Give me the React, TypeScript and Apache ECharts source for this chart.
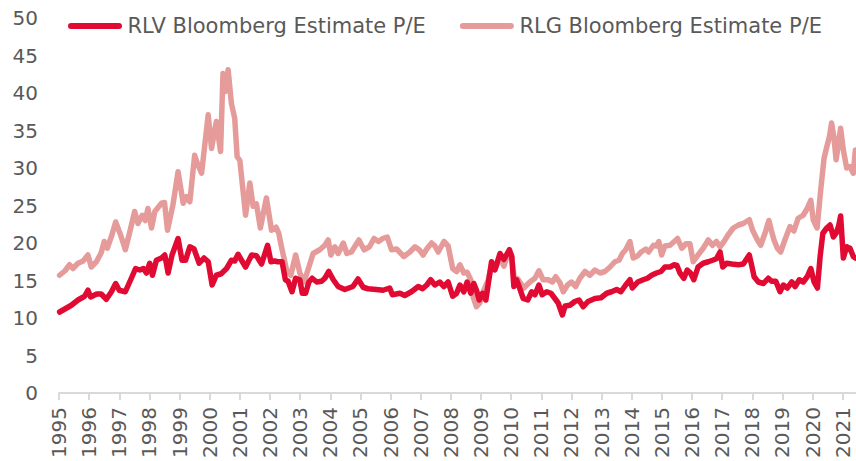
import React, { useEffect, useRef } from "react";
import * as echarts from "echarts";

// Decimal-year positions and values
const rlvDates = [
  1995.02, 1995.41, 1995.63, 1995.85, 1995.96, 1996.05, 1996.25, 1996.4, 1996.57, 1996.74, 1996.88, 1997.0,
  1997.2, 1997.4, 1997.54, 1997.68, 1997.8, 1997.9, 1998.01, 1998.1, 1998.23, 1998.4, 1998.51, 1998.62,
  1998.75, 1998.95, 1999.08, 1999.2, 1999.34, 1999.48, 1999.65, 1999.81, 1999.95, 2000.08, 2000.22, 2000.38,
  2000.56, 2000.72, 2000.83, 2000.94, 2001.07, 2001.19, 2001.39, 2001.55, 2001.72, 2001.92, 2002.03, 2002.15,
  2002.26, 2002.4, 2002.51, 2002.6, 2002.73, 2002.85, 2002.99, 2003.07, 2003.18, 2003.29, 2003.4, 2003.55,
  2003.71, 2003.82, 2003.95, 2004.1, 2004.26, 2004.48, 2004.75, 2004.92, 2005.09, 2005.25, 2005.53, 2005.75,
  2005.97, 2006.06, 2006.31, 2006.47, 2006.69, 2006.92, 2007.06, 2007.2, 2007.33, 2007.47, 2007.63, 2007.77,
  2007.91, 2008.06, 2008.19, 2008.3, 2008.43, 2008.54, 2008.66, 2008.76, 2008.85, 2008.94, 2009.05, 2009.16,
  2009.35, 2009.46, 2009.63, 2009.76, 2009.94, 2010.02, 2010.09, 2010.18, 2010.28, 2010.4, 2010.55, 2010.68,
  2010.79, 2010.92, 2011.03, 2011.18, 2011.32, 2011.45, 2011.56, 2011.7, 2011.79, 2011.95, 2012.11, 2012.25,
  2012.39, 2012.55, 2012.78, 2012.98, 2013.17, 2013.33, 2013.5, 2013.64, 2013.8, 2013.94, 2014.02, 2014.2,
  2014.38, 2014.52, 2014.66, 2014.82, 2014.97, 2015.1, 2015.27, 2015.41, 2015.5, 2015.6, 2015.73, 2015.84,
  2015.95, 2016.06, 2016.2, 2016.37, 2016.54, 2016.68, 2016.81, 2016.93, 2017.02, 2017.15, 2017.32, 2017.54,
  2017.7, 2017.9, 2017.98, 2018.06, 2018.2, 2018.37, 2018.53, 2018.64, 2018.78, 2018.92, 2019.03, 2019.16,
  2019.31, 2019.42, 2019.56, 2019.69, 2019.82, 2019.94, 2020.05, 2020.16, 2020.25, 2020.34, 2020.47, 2020.58,
  2020.69, 2020.78, 2020.86, 2020.93, 2021.02, 2021.13, 2021.24, 2021.35, 2021.42,
];
const rlvValues = [
  10.8, 11.7, 12.4, 12.9, 13.7, 12.8, 13.2, 13.2, 12.5, 13.5, 14.6, 13.7,
  13.5, 15.3, 16.6, 16.4, 16.6, 16.0, 17.3, 15.7, 17.7, 18.0, 18.4, 16.0,
  18.4, 20.6, 17.7, 17.7, 19.5, 19.2, 17.3, 18.0, 17.5, 14.4, 15.7, 15.9,
  16.6, 17.7, 17.6, 18.5, 17.6, 16.8, 18.4, 18.3, 17.2, 19.7, 17.5, 17.6,
  17.5, 17.5, 15.1, 14.9, 13.5, 15.3, 15.1, 13.3, 13.3, 14.8, 15.3, 14.8,
  14.9, 15.3, 16.2, 15.1, 14.2, 13.8, 14.2, 15.2, 14.1, 13.9, 13.8, 13.7,
  14.0, 13.1, 13.3, 13.0, 13.5, 14.2, 13.9, 14.4, 15.1, 14.4, 14.8, 14.2,
  14.8, 12.9, 13.3, 14.4, 13.5, 14.8, 13.3, 14.6, 13.7, 12.4, 13.3, 12.4,
  17.5, 16.4, 18.6, 17.8, 19.1, 18.2, 14.2, 15.1, 14.0, 12.6, 12.4, 13.5,
  13.1, 14.4, 13.1, 13.5, 13.3, 12.6, 12.0, 10.4, 11.6, 11.7, 12.2, 12.4,
  11.5, 12.2, 12.6, 12.7, 13.3, 13.5, 13.8, 13.5, 14.4, 15.1, 14.0, 14.8,
  15.1, 15.3, 15.7, 16.0, 16.2, 16.8, 16.8, 17.1, 17.0, 16.0, 15.3, 16.4,
  16.0, 15.1, 16.8, 17.3, 17.5, 17.7, 17.9, 18.8, 16.8, 17.3, 17.2, 17.1,
  17.2, 18.4, 17.0, 15.5, 14.8, 14.6, 15.3, 14.9, 14.9, 13.5, 14.4, 14.0,
  14.8, 14.2, 15.1, 14.8, 15.5, 16.6, 14.8, 14.0, 18.2, 21.3, 22.0, 22.4,
  20.8, 21.3, 22.2, 23.6, 18.0, 19.5, 19.3, 18.2, 18.0,
];

const rlgDates = [
  1995.02, 1995.2, 1995.35, 1995.46, 1995.63, 1995.8, 1995.96, 1996.07, 1996.24, 1996.4, 1996.5, 1996.6,
  1996.75, 1996.88, 1997.05, 1997.2, 1997.35, 1997.51, 1997.62, 1997.76, 1997.86, 1997.95, 1998.07, 1998.18,
  1998.4, 1998.5, 1998.6, 1998.78, 1998.95, 1999.12, 1999.23, 1999.34, 1999.5, 1999.6, 1999.73, 1999.82,
  1999.95, 2000.06, 2000.22, 2000.36, 2000.44, 2000.52, 2000.61, 2000.72, 2000.83, 2000.91, 2001.0, 2001.19,
  2001.33, 2001.44, 2001.55, 2001.68, 2001.88, 2002.05, 2002.2, 2002.29, 2002.38, 2002.55, 2002.69, 2002.85,
  2002.99, 2003.13, 2003.29, 2003.43, 2003.65, 2003.82, 2003.93, 2004.02, 2004.15, 2004.26, 2004.43, 2004.55,
  2004.7, 2004.95, 2005.12, 2005.3, 2005.45, 2005.6, 2005.74, 2005.89, 2006.03, 2006.2, 2006.44, 2006.64,
  2006.81, 2006.95, 2007.08, 2007.2, 2007.36, 2007.47, 2007.58, 2007.77, 2007.91, 2008.06, 2008.19, 2008.3,
  2008.43, 2008.54, 2008.66, 2008.74, 2008.85, 2008.96, 2009.05, 2009.24, 2009.35, 2009.51, 2009.63, 2009.76,
  2009.9, 2010.01, 2010.1, 2010.22, 2010.42, 2010.62, 2010.79, 2010.92, 2011.06, 2011.23, 2011.37, 2011.48,
  2011.62, 2011.73, 2011.87, 2012.0, 2012.14, 2012.28, 2012.45, 2012.61, 2012.78, 2012.95, 2013.11, 2013.28,
  2013.44, 2013.58, 2013.69, 2013.8, 2013.94, 2014.05, 2014.2, 2014.31, 2014.47, 2014.56, 2014.72, 2014.83,
  2014.9, 2014.99, 2015.1, 2015.27, 2015.41, 2015.52, 2015.66, 2015.8, 2015.93, 2016.04, 2016.2, 2016.37,
  2016.54, 2016.68, 2016.81, 2016.93, 2017.06, 2017.2, 2017.37, 2017.54, 2017.7, 2017.9, 2018.01, 2018.17,
  2018.28, 2018.42, 2018.55, 2018.63, 2018.72, 2018.83, 2018.94, 2019.08, 2019.25, 2019.38, 2019.52, 2019.69,
  2019.82, 2019.94, 2020.02, 2020.15, 2020.27, 2020.38, 2020.47, 2020.56, 2020.63, 2020.71, 2020.78, 2020.86,
  2020.93, 2021.02, 2021.13, 2021.24, 2021.35, 2021.42,
];
const rlgValues = [
  15.7, 16.3, 17.1, 16.6, 17.3, 17.6, 18.4, 16.8, 17.5, 18.7, 20.2, 19.3,
  21.0, 22.8, 21.0, 19.1, 21.5, 24.2, 22.6, 23.7, 23.0, 24.6, 22.0, 24.2,
  25.3, 25.4, 21.7, 25.1, 29.5, 25.3, 26.2, 25.5, 31.7, 30.5, 29.3, 32.5,
  37.1, 32.6, 36.2, 32.2, 42.6, 40.2, 43.1, 38.6, 36.6, 31.5, 31.0, 23.7,
  28.0, 24.9, 25.2, 22.0, 26.0, 21.7, 22.1, 21.3, 19.5, 16.4, 15.7, 18.4,
  16.0, 14.8, 16.8, 18.6, 19.1, 19.7, 20.4, 18.4, 19.5, 18.6, 20.0, 18.6,
  18.8, 20.4, 19.1, 19.5, 20.6, 20.2, 20.6, 20.8, 19.1, 19.2, 18.2, 18.8,
  19.5, 19.1, 18.4, 19.2, 20.0, 19.6, 18.8, 20.2, 19.6, 16.6, 16.2, 17.1,
  16.0, 16.1, 15.1, 12.8, 11.5, 12.0, 13.3, 15.1, 17.1, 16.9, 18.2, 16.9,
  18.6, 18.4, 15.4, 15.2, 14.0, 14.8, 15.3, 16.3, 15.1, 15.1, 14.8, 15.5,
  14.7, 13.5, 14.4, 14.8, 14.2, 15.3, 16.2, 15.7, 16.4, 16.0, 16.2, 16.8,
  17.5, 17.7, 18.6, 19.1, 20.2, 18.0, 18.3, 18.8, 19.2, 18.8, 19.7, 19.6,
  20.2, 18.4, 19.6, 19.7, 20.2, 20.6, 19.3, 19.9, 19.9, 17.5, 18.4, 19.3,
  20.4, 19.7, 20.2, 19.5, 20.2, 21.1, 22.0, 22.4, 22.6, 23.1, 21.7, 20.4,
  19.7, 21.3, 23.0, 21.7, 20.4, 19.3, 18.8, 20.4, 22.2, 21.6, 23.3, 23.7,
  24.6, 25.7, 23.1, 22.0, 27.1, 31.3, 32.8, 34.2, 36.0, 34.0, 31.1, 33.3,
  35.3, 32.4, 30.0, 30.2, 29.3, 32.4,
];

const seriesNames = ["RLV Bloomberg Estimate P/E", "RLG Bloomberg Estimate P/E"];
const seriesColors = ["#E10A32", "#E69B9B"];
const xMin = 1995;
const xMax = 2021.44;

const FONT = "'DejaVu Sans', Verdana, sans-serif";
// capsule-shaped legend icon (a thick line with round caps)
const LEGEND_ICON = "path://M3,0 H51 A3,3 0 0 1 51,6 H3 A3,3 0 0 1 3,0 Z";

export default function App() {
  const ref = useRef<HTMLDivElement>(null);

  useEffect(() => {
    if (!ref.current) return;
    const chart = echarts.init(ref.current, undefined, { renderer: "svg" });
    const zip = (xs: number[], ys: number[]) => xs.map((x, i) => [x, ys[i]]);
    chart.setOption({
      animation: false,
      backgroundColor: "#ffffff",
      grid: { left: 59, right: 0, top: 18, bottom: 68, containLabel: false },
      legend: {
        left: 68,
        top: 14,
        padding: 0,
        icon: LEGEND_ICON,
        itemWidth: 55,
        itemHeight: 6,
        itemGap: 34,
        data: seriesNames,
        textStyle: { fontFamily: FONT, fontSize: 21, color: "#595959", lineHeight: 24 },
      },
      xAxis: {
        type: "value",
        min: xMin,
        max: xMax,
        interval: 1,
        splitLine: { show: false },
        axisLine: { show: true, lineStyle: { color: "#D9D9D9", width: 2 } },
        axisTick: { show: true, length: 7, lineStyle: { color: "#D9D9D9", width: 2 } },
        axisLabel: {
          rotate: 90,
          margin: 14,
          fontFamily: FONT,
          fontSize: 20,
          color: "#595959",
          showMaxLabel: false,
          formatter: (v: number) => (Math.abs(v - Math.round(v)) < 1e-6 ? String(Math.round(v)) : ""),
        },
      },
      yAxis: {
        type: "value",
        min: 0,
        max: 50,
        interval: 5,
        splitLine: { show: false },
        axisLine: { show: false },
        axisTick: { show: false },
        axisLabel: { margin: 21, fontFamily: FONT, fontSize: 20, color: "#595959" },
      },
      series: [
        {
          name: seriesNames[0],
          type: "line",
          data: zip(rlvDates, rlvValues),
          symbol: "none",
          z: 3,
          lineStyle: { color: seriesColors[0], width: 5.5, cap: "round", join: "round" },
          itemStyle: { color: seriesColors[0] },
        },
        {
          name: seriesNames[1],
          type: "line",
          data: zip(rlgDates, rlgValues),
          symbol: "none",
          z: 2,
          lineStyle: { color: seriesColors[1], width: 5.5, cap: "round", join: "round" },
          itemStyle: { color: seriesColors[1] },
        },
      ],
    });
    return () => chart.dispose();
  }, []);

  return (
    <div
      ref={ref}
      style={{ position: "fixed", left: 0, top: 0, width: 856, height: 461, background: "#fff" }}
    />
  );
}
